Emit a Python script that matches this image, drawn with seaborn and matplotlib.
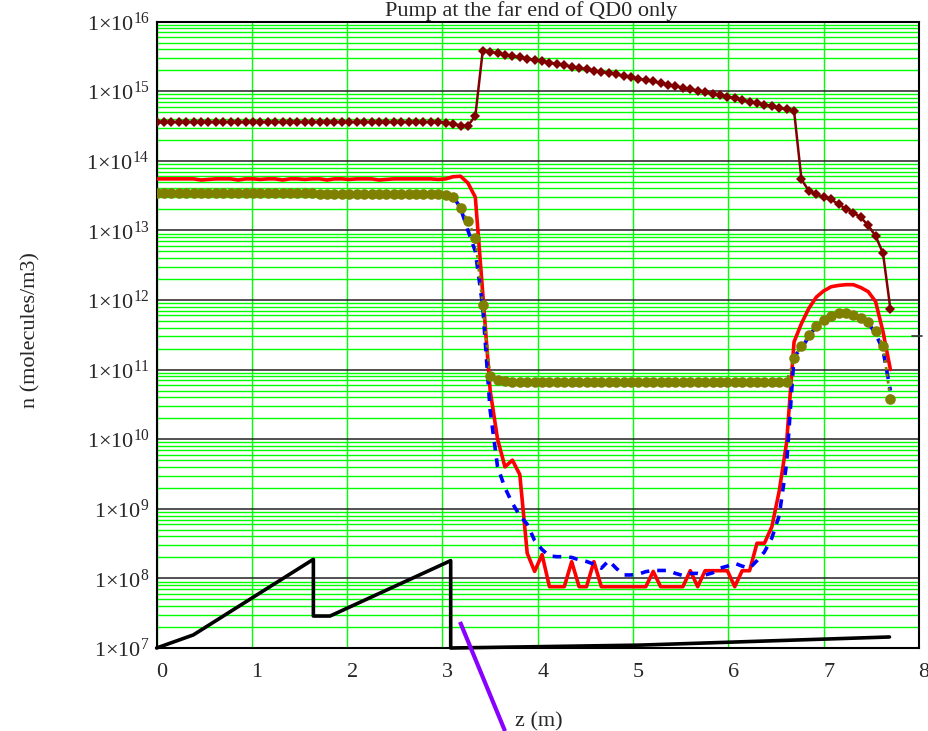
import numpy as np
import pandas as pd
import matplotlib
matplotlib.use("Agg")
import matplotlib.pyplot as plt
import matplotlib.transforms as mtransforms
from matplotlib.ticker import LogLocator, FixedLocator, FuncFormatter, NullFormatter
import seaborn as sns

# ---------------- data ----------------
z = np.linspace(0.0, 7.7, 100)          # sampling positions along the beam line (m)

n_red = [
    5.5e13, 5.5e13, 5.5e13, 5.5e13, 5.5e13, 5.5e13, 5.3e13, 5.4e13, 5.5e13, 5.5e13,
    5.5e13, 5.3e13, 5.5e13, 5.5e13, 5.4e13, 5.5e13, 5.5e13, 5.3e13, 5.5e13, 5.5e13,
    5.4e13, 5.5e13, 5.5e13, 5.3e13, 5.5e13, 5.5e13, 5.4e13, 5.5e13, 5.5e13, 5.5e13,
    5.3e13, 5.4e13, 5.5e13, 5.5e13, 5.5e13, 5.5e13, 5.5e13, 5.5e13, 5.4e13, 5.5e13,
    5.9e13, 6.0e13, 4.8e13, 3.0e13, 1.26e12, 5.0e10, 1.0e10, 4.0e9, 5.0e9, 3.1e9,
    2.3e8, 1.26e8, 2.2e8, 7.6e7, 7.6e7, 7.6e7, 1.74e8, 7.6e7, 7.6e7, 1.74e8,
    7.6e7, 7.6e7, 7.6e7, 7.6e7, 7.6e7, 7.6e7, 7.6e7, 1.26e8, 7.6e7, 7.6e7,
    7.6e7, 7.6e7, 1.29e8, 7.6e7, 1.29e8, 1.29e8, 1.29e8, 1.29e8, 7.6e7, 1.29e8,
    1.29e8, 3.2e8, 3.2e8, 5.5e8, 1.8e9, 9.0e9, 2.5e11, 4.6e11, 7.6e11, 1.1e12,
    1.35e12, 1.55e12, 1.62e12, 1.66e12, 1.66e12, 1.51e12, 1.32e12, 9.5e11, 3.5e11, 1.0e11,
]

n_blue = [
    3.5e13, 3.5e13, 3.5e13, 3.5e13, 3.5e13, 3.5e13, 3.5e13, 3.5e13, 3.5e13, 3.5e13,
    3.5e13, 3.5e13, 3.5e13, 3.5e13, 3.5e13, 3.5e13, 3.5e13, 3.5e13, 3.5e13, 3.5e13,
    3.5e13, 3.5e13, 3.3e13, 3.3e13, 3.3e13, 3.3e13, 3.3e13, 3.3e13, 3.3e13, 3.3e13,
    3.3e13, 3.3e13, 3.3e13, 3.3e13, 3.3e13, 3.3e13, 3.3e13, 3.3e13, 3.3e13, 3.25e13,
    3.1e13, 2.1e13, 1.0e13, 5.0e12, 8.0e11, 2.6e10, 4.0e9, 2.0e9, 1.2e9, 8.0e8,
    6.0e8, 3.5e8, 2.6e8, 2.1e8, 2.05e8, 2.05e8, 2.0e8, 1.85e8, 1.75e8, 1.6e8,
    1.4e8, 1.8e8, 1.4e8, 1.12e8, 1.12e8, 1.15e8, 1.25e8, 1.3e8, 1.3e8, 1.3e8,
    1.18e8, 1.1e8, 1.18e8, 1.18e8, 1.12e8, 1.2e8, 1.4e8, 1.5e8, 1.65e8, 1.5e8,
    1.4e8, 1.8e8, 2.4e8, 3.8e8, 8.0e8, 4.5e9, 1.55e11, 2.0e11, 3.0e11, 4.2e11,
    5.1e11, 5.7e11, 6.3e11, 6.3e11, 6.0e11, 5.5e11, 4.7e11, 3.3e11, 1.9e11, 5.0e10,
]

n_olive = [
    3.5e13, 3.5e13, 3.5e13, 3.5e13, 3.5e13, 3.5e13, 3.5e13, 3.5e13, 3.5e13, 3.5e13,
    3.5e13, 3.5e13, 3.5e13, 3.5e13, 3.5e13, 3.5e13, 3.5e13, 3.5e13, 3.5e13, 3.5e13,
    3.5e13, 3.5e13, 3.3e13, 3.3e13, 3.3e13, 3.3e13, 3.3e13, 3.3e13, 3.3e13, 3.3e13,
    3.3e13, 3.3e13, 3.3e13, 3.3e13, 3.3e13, 3.3e13, 3.3e13, 3.3e13, 3.3e13, 3.25e13,
    3.05e13, 2.1e13, 1.36e13, 7.8e12, 8.5e11, 8.0e10, 7.1e10, 6.8e10, 6.6e10, 6.6e10,
    6.6e10, 6.6e10, 6.6e10, 6.6e10, 6.6e10, 6.6e10, 6.6e10, 6.6e10, 6.6e10, 6.6e10,
    6.6e10, 6.6e10, 6.6e10, 6.6e10, 6.6e10, 6.6e10, 6.6e10, 6.6e10, 6.6e10, 6.6e10,
    6.6e10, 6.6e10, 6.6e10, 6.6e10, 6.6e10, 6.6e10, 6.6e10, 6.6e10, 6.6e10, 6.6e10,
    6.6e10, 6.6e10, 6.6e10, 6.6e10, 6.6e10, 6.7e10, 1.45e11, 2.2e11, 3.1e11, 4.3e11,
    5.2e11, 5.8e11, 6.4e11, 6.4e11, 6.1e11, 5.6e11, 4.8e11, 3.6e11, 2.2e11, 3.8e10,
]

n_maroon = [
    3.6e14, 3.6e14, 3.6e14, 3.6e14, 3.6e14, 3.6e14, 3.6e14, 3.6e14, 3.6e14, 3.6e14,
    3.6e14, 3.6e14, 3.6e14, 3.6e14, 3.6e14, 3.6e14, 3.6e14, 3.6e14, 3.6e14, 3.6e14,
    3.6e14, 3.6e14, 3.6e14, 3.6e14, 3.6e14, 3.6e14, 3.6e14, 3.6e14, 3.6e14, 3.6e14,
    3.6e14, 3.6e14, 3.6e14, 3.6e14, 3.6e14, 3.6e14, 3.6e14, 3.6e14, 3.6e14, 3.55e14,
    3.4e14, 3.2e14, 3.2e14, 4.4e14, 3.82e15, 3.66e15, 3.5e15, 3.35e15, 3.21e15, 3.07e15,
    2.94e15, 2.81e15, 2.69e15, 2.58e15, 2.47e15, 2.36e15, 2.26e15, 2.16e15, 2.07e15, 1.98e15,
    1.9e15, 1.82e15, 1.74e15, 1.66e15, 1.59e15, 1.52e15, 1.45e15, 1.38e15, 1.31e15, 1.24e15,
    1.18e15, 1.12e15, 1.07e15, 1.02e15, 9.7e14, 9.2e14, 8.7e14, 8.3e14, 7.9e14, 7.5e14,
    7.1e14, 6.8e14, 6.4e14, 6.1e14, 5.8e14, 5.5e14, 5.25e14, 5.4e13, 3.7e13, 3.3e13,
    3.0e13, 2.8e13, 2.37e13, 2.05e13, 1.8e13, 1.54e13, 1.18e13, 8.3e12, 4.7e12, 7.4e11,
]

z_black = [0.0, 0.385, 1.645, 1.645, 1.82, 3.086, 3.086, 5.07, 7.69]
n_black = [1.0e7, 1.54e7, 1.88e8, 2.88e7, 2.88e7, 1.8e8, 1.0e7, 1.1e7, 1.44e7]

# annotation strokes seen on the sheet
z_pointer = [3.184, 3.656]
n_pointer = [2.37e7, 6.4e5]
z_mark = [7.93, 8.03]
n_mark = [3.04e11, 3.04e11]

x_ticks = [0, 1, 2, 3, 4, 5, 6, 7, 8]
y_exponents = [7, 8, 9, 10, 11, 12, 13, 14, 15, 16]

title_text = "Pump at the far end of QD0 only"
xlabel_text = "z (m)"
ylabel_text = "n (molecules/m3)"

df = pd.DataFrame({"z": z, "red": n_red, "blue": n_blue,
                   "olive": n_olive, "maroon": n_maroon})
df_black = pd.DataFrame({"z": z_black, "n": n_black})

# ---------------- style ----------------
sns.set_style("white")
plt.rcParams["font.family"] = ["Liberation Serif", "DejaVu Serif"]
plt.rcParams["mathtext.fontset"] = "custom"
plt.rcParams["mathtext.rm"] = "Liberation Serif"
plt.rcParams["mathtext.it"] = "Liberation Serif:italic"
plt.rcParams["mathtext.bf"] = "Liberation Serif:bold"

W, H = 929, 731
fig = plt.figure(figsize=(W / 100, H / 100), dpi=100)
ax_l, ax_r, ax_t, ax_b = 156.6, 919.0, 21.6, 648.0
ax = fig.add_axes([ax_l / W, 1 - ax_b / H, (ax_r - ax_l) / W, (ax_b - ax_t) / H])

ax.set_yscale("log")
ax.set_xlim(0, 8)
ax.set_ylim(1e7, 1e16)

# grid
ax.set_axisbelow(True)
ax.yaxis.set_major_locator(FixedLocator([10.0 ** e for e in y_exponents]))
ax.yaxis.set_minor_locator(LogLocator(base=10, subs=np.arange(2, 10), numticks=100))
ax.yaxis.set_minor_formatter(NullFormatter())
ax.xaxis.set_major_locator(FixedLocator(x_ticks))
ax.grid(which="minor", axis="y", color="#00ff00", lw=1.0)
ax.grid(which="major", axis="y", color="#222222", lw=1.1)
ax.grid(which="major", axis="x", color="#00ff00", lw=1.0)

# traces
sns.lineplot(data=df, x="z", y="red", ax=ax, color="#ff0000", lw=2.6,
             estimator=None, sort=False, zorder=3)
sns.lineplot(data=df, x="z", y="blue", ax=ax, color="#0000ff", lw=2.6,
             estimator=None, sort=False, zorder=4, dashes=False,
             linestyle=(0, (2.4, 2.2)))
sns.lineplot(data=df, x="z", y="olive", ax=ax, color="#808000", lw=2.0,
             estimator=None, sort=False, zorder=5, linestyle=(0, (1, 1.5)),
             marker="o", markersize=7.6, markeredgewidth=0,
             markerfacecolor="#808000")
sns.lineplot(data=df, x="z", y="maroon", ax=ax, color="#800000", lw=1.8,
             estimator=None, sort=False, zorder=6,
             marker="D", markersize=5.6, markeredgewidth=0,
             markerfacecolor="#800000")
sns.lineplot(data=df_black, x="z", y="n", ax=ax, color="black", lw=2.6,
             estimator=None, sort=False, zorder=7, clip_on=False)

ax.plot(z_pointer, n_pointer, color="#8800ff", lw=3.0, clip_on=False,
        solid_capstyle="butt", zorder=8)
ax.plot(z_mark, n_mark, color="#333333", lw=1.2, clip_on=False, zorder=8)

# spines / ticks
for s in ax.spines.values():
    s.set_color("black")
    s.set_linewidth(1.5)
ax.tick_params(axis="both", which="both", length=0)
ax.tick_params(axis="x", pad=11, labelsize=16)
ax.tick_params(axis="y", pad=5, labelsize=16)
ax.xaxis.set_major_formatter(FuncFormatter(lambda v, p: f"{int(round(v))}"))
ax.yaxis.set_major_formatter(FuncFormatter(
    lambda v, p: r"$\mathregular{1{\times}10^{%d}}$" % int(round(np.log10(v)))))

offset = mtransforms.ScaledTranslation(5 / 100, 0, fig.dpi_scale_trans)
for lab in ax.get_xticklabels():
    lab.set_transform(lab.get_transform() + offset)

ax.set_xlabel(xlabel_text, fontsize=16)
ax.xaxis.set_label_coords(0.5016, -0.102)
ax.set_ylabel(ylabel_text, fontsize=16)
ax.yaxis.set_label_coords(-0.152, 0.508)

fig.text(531 / W, 1 - 16 / H, title_text, ha="center", va="baseline", fontsize=16)

fig.savefig("out.png", dpi=100)
